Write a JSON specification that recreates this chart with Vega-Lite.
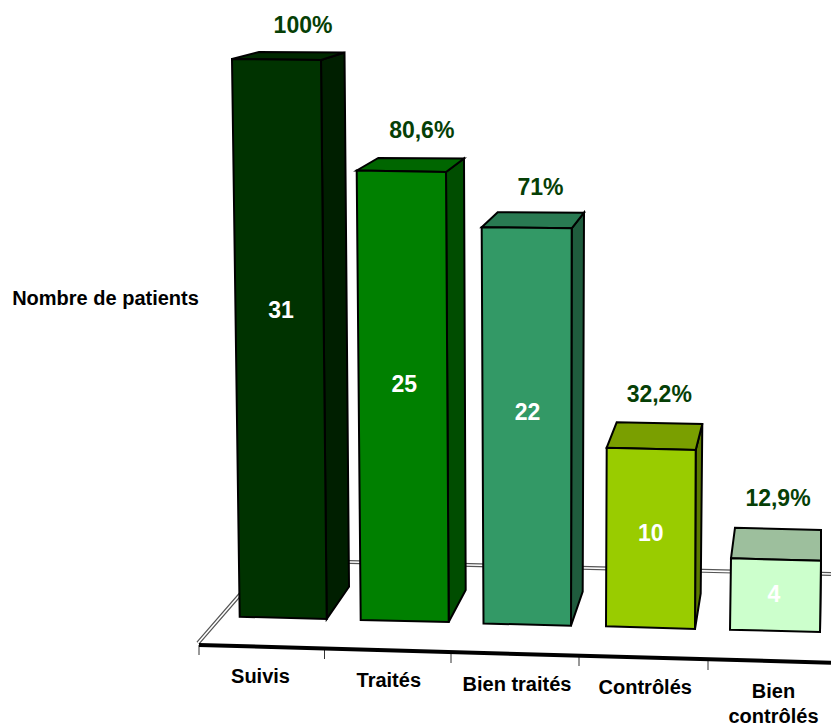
{
"$schema":"https://vega.github.io/schema/vega-lite/v6.json",
"width":831,"height":725,"autosize":"none","padding":0,"background":"white",
"config":{"view":{"stroke":null}},
"data":{"values":[
{"label":"Suivis","patients":31,"percent":"100%"},
{"label":"Traités","patients":25,"percent":"80,6%"},
{"label":"Bien traités","patients":22,"percent":"71%"},
{"label":"Contrôlés","patients":10,"percent":"32,2%"},
{"label":"Bien\ncontrôlés","patients":4,"percent":"12,9%"}
]},
"resolve":{"scale":{"x":"independent","y":"independent","fill":"independent","shape":"independent"}},
"layer":[
{"transform":[{"filter":{"field":"patients","equal":31}}],
 "mark":{"type":"point","filled":false,"size":4,"opacity":1,"stroke":"#555555","strokeWidth":4,"shape":"M-79 10L-7 -73L554 -59"},
 "encoding":{"x":{"field":"label","type":"nominal","axis":null,"scale":{"type":"point","padding":0,"domain":["Suivis","Traités","Bien traités","Contrôlés","Bien\ncontrôlés"],"range":[277,775]}},
  "y":{"datum":0,"type":"quantitative","axis":null,"scale":{"domain":[0,31],"range":[633,59]}}}},
{"transform":[{"filter":{"field":"patients","equal":31}}],
 "mark":{"type":"point","filled":false,"size":4,"opacity":1,"stroke":"white","strokeWidth":1.6,"shape":"M-79 10L-7 -73L554 -59"},
 "encoding":{"x":{"field":"label","type":"nominal","axis":null,"scale":{"type":"point","padding":0,"domain":["Suivis","Traités","Bien traités","Contrôlés","Bien\ncontrôlés"],"range":[277,775]}},
  "y":{"datum":0,"type":"quantitative","axis":null,"scale":{"domain":[0,31],"range":[633,59]}}}},
{"transform":[{"filter":{"field":"patients","equal":31}}],
 "mark":{"type":"point","filled":false,"size":4,"opacity":1,"stroke":"#333333","strokeWidth":1,"shape":"M-78 12L-78 22M47.5 16L47.5 26M174 20L174 30M302 23L302 33M431 27L431 37"},
 "encoding":{"x":{"field":"label","type":"nominal","axis":null,"scale":{"type":"point","padding":0,"domain":["Suivis","Traités","Bien traités","Contrôlés","Bien\ncontrôlés"],"range":[277,775]}},
  "y":{"datum":0,"type":"quantitative","axis":null,"scale":{"domain":[0,31],"range":[633,59]}}}},
{"transform":[{"filter":{"field":"patients","equal":31}}],
 "mark":{"type":"point","filled":false,"size":4,"opacity":1,"stroke":"black","strokeWidth":4,"shape":"M-78 12L554 29.7"},
 "encoding":{"x":{"field":"label","type":"nominal","axis":null,"scale":{"type":"point","padding":0,"domain":["Suivis","Traités","Bien traités","Contrôlés","Bien\ncontrôlés"],"range":[277,775]}},
  "y":{"datum":0,"type":"quantitative","axis":null,"scale":{"domain":[0,31],"range":[633,59]}}}},
{"mark":{"type":"point","filled":true,"size":4,"opacity":1,"stroke":"black","strokeWidth":2},
 "encoding":{
  "x":{"field":"label","type":"nominal","axis":null,"sort":null,"scale":{"type":"point","padding":0,"range":[277,775]}},
  "y":{"field":"patients","type":"quantitative","axis":null,"scale":{"domain":[0,4,10,22,25,31],"range":[633,558.3,447.7,227.3,170.5,59]}},
  "fill":{"field":"label","type":"nominal","legend":null,"sort":null,"scale":{"range":["#001f00","#004d00","#1f5c3d","#5c7a00","#99bf99"]}},
  "shape":{"field":"label","type":"nominal","legend":null,"sort":null,"scale":{"range":[
   "M44 1L67.5 -6.5L72 527.7L49.7 560Z",
   "M44.5 1.5L62.5 -12L64.2 419.5L47.2 451.5Z",
   "M45.7 1L58 -14.6L56.7 364.4L45 398.4Z",
   "M45.2 2.3L51.8 -23.7L50.2 145.6L44.5 181.3Z",
   "M46 -28.3L46 2.4L45 73.7Z"]}}}},
{"mark":{"type":"point","filled":true,"size":4,"opacity":1,"stroke":"black","strokeWidth":2},
 "encoding":{
  "x":{"field":"label","type":"nominal","axis":null,"sort":null,"scale":{"type":"point","padding":0,"range":[277,775]}},
  "y":{"field":"patients","type":"quantitative","axis":null,"scale":{"domain":[0,4,10,22,25,31],"range":[633,558.3,447.7,227.3,170.5,59]}},
  "fill":{"field":"label","type":"nominal","legend":null,"sort":null,"scale":{"range":["#002900","#006600","#297a52","#7a9f00","#9dbf9d"]}},
  "shape":{"field":"label","type":"nominal","legend":null,"sort":null,"scale":{"range":[
   "M-45 0L-18 -7L67.5 -6.5L44 1Z",
   "M-44.8 0L-23.2 -12.5L62.5 -12L44.5 1.5Z",
   "M-44.3 0L-28.3 -15L58 -14.6L45.7 1Z",
   "M-43.8 0L-33.8 -25.4L51.8 -23.7L45.2 2.3Z",
   "M-44 0L-40 -30.6L46 -28.3L46 2.4Z"]}}}},
{"mark":{"type":"point","filled":true,"size":4,"opacity":1,"stroke":"black","strokeWidth":2},
 "encoding":{
  "x":{"field":"label","type":"nominal","axis":null,"sort":null,"scale":{"type":"point","padding":0,"range":[277,775]}},
  "y":{"field":"patients","type":"quantitative","axis":null,"scale":{"domain":[0,4,10,22,25,31],"range":[633,558.3,447.7,227.3,170.5,59]}},
  "fill":{"field":"label","type":"nominal","legend":null,"sort":null,"scale":{"range":["#003300","#008000","#339966","#99cc00","#ccffcc"]}},
  "shape":{"field":"label","type":"nominal","legend":null,"sort":null,"scale":{"range":[
   "M-45 0L44 1L49.7 560L-37.3 557.7Z",
   "M-44.8 0L44.5 1.5L47.2 451.5L-40.8 449.5Z",
   "M-44.3 0L45.7 1L45 398.4L-42.5 396.2Z",
   "M-43.8 0L45.2 2.3L44.5 181.3L-44.5 178.6Z",
   "M-44 0L46 2.4L45 73.7L-45 71.4Z"]}}}},
{"mark":{"type":"text","font":"Liberation Sans","fontWeight":"bold","fontSize":23,"fill":"#063f06","align":"center","baseline":"alphabetic"},
 "encoding":{
  "x":{"field":"label","type":"nominal","axis":null,"sort":null,"scale":{"type":"point","padding":0,"range":[303,778]}},
  "y":{"field":"patients","type":"quantitative","axis":null,"scale":{"domain":[4,10,22,25,31],"range":[506,402.3,195,138.3,33.3]}},
  "text":{"field":"percent","type":"nominal"}}},
{"mark":{"type":"text","font":"Liberation Sans","fontWeight":"bold","fontSize":23,"fill":"white","align":"center","baseline":"alphabetic"},
 "encoding":{
  "x":{"field":"label","type":"nominal","axis":null,"sort":null,"scale":{"type":"point","padding":0,"range":[281,774]}},
  "y":{"field":"patients","type":"quantitative","scale":{"domain":[4,10,22,25,31],"range":[601.5,541,420,392,318]},
   "axis":{"orient":"left","domain":false,"ticks":false,"labels":false,"grid":false,"title":"Nombre de patients","titleFont":"Liberation Sans","titleFontWeight":"bold","titleFontSize":20,"titleColor":"black","titleAngle":0,"titleX":105,"titleY":304,"titleAlign":"center","titleBaseline":"alphabetic"}},
  "text":{"field":"patients","type":"quantitative"}}},
{"mark":{"type":"text","font":"Liberation Sans","fontWeight":"bold","fontSize":20,"fill":"black","align":"center","baseline":"alphabetic","lineBreak":"\n","lineHeight":25},
 "encoding":{
  "x":{"field":"label","type":"nominal","axis":null,"sort":null,"scale":{"type":"point","padding":0,"range":[260.5,773.5]}},
  "y":{"field":"label","type":"nominal","axis":null,"sort":null,"scale":{"type":"point","padding":0,"range":[682.7,698.3]}},
  "text":{"field":"label","type":"nominal"}}}
]}
